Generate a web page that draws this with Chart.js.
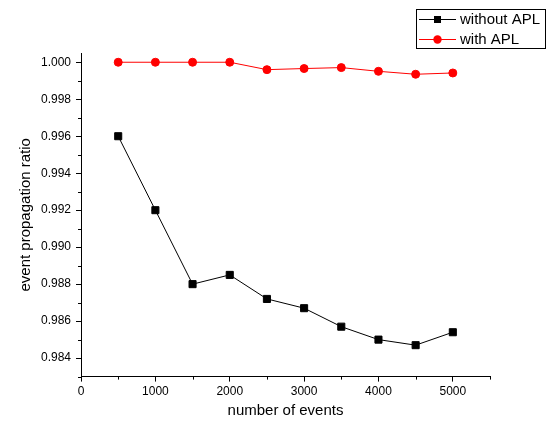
<!DOCTYPE html>
<html>
<head>
<meta charset="utf-8">
<script src="https://cdn.jsdelivr.net/npm/chart.js@4"></script>
<style>
  body { margin: 0; background: #fff; }
</style>
</head>
<body>
<canvas id="myChart" width="547" height="426"></canvas>
<script>
let events = [500, 1000, 1500, 2000, 2500, 3000, 3500, 4000, 4500, 5000];
let withoutAPL = [0.9960, 0.9920, 0.9880, 0.9885, 0.9872, 0.9867, 0.9857, 0.9850, 0.9847, 0.9854];
let withAPL = [1.0000, 1.0000, 1.0000, 1.0000, 0.9996, 0.99966, 0.99971, 0.99951, 0.99935, 0.99942];
let xTickLabels = [0, 1000, 2000, 3000, 4000, 5000];
let yTickLabels = [0.984, 0.986, 0.988, 0.990, 0.992, 0.994, 0.996, 0.998, 1.000];

let fontFamily = '"Liberation Sans", Arial, sans-serif';
Chart.defaults.font.family = fontFamily;
Chart.defaults.color = '#000';

let isXMajor = v => xTickLabels.includes(v);
let isYMajor = v => yTickLabels.some(l => Math.abs(l - v) < 1e-7);

// legend drawn as a framed box in the top right corner
let boxLegend = {
  id: 'boxLegend',
  afterDraw(chart) {
    let ctx = chart.ctx;
    let left = 416, top = 9, w = 129, h = 39;
    ctx.save();
    ctx.strokeStyle = '#000';
    ctx.lineWidth = 1;
    ctx.strokeRect(left + 0.5, top + 0.5, w, h);
    chart.data.datasets.forEach((ds, i) => {
      let y = top + 10 + i * 20;
      ctx.strokeStyle = ds.borderColor;
      ctx.beginPath();
      ctx.moveTo(left + 3, y + 0.5);
      ctx.lineTo(left + 40, y + 0.5);
      ctx.stroke();
      ctx.fillStyle = ds.pointBackgroundColor;
      if (ds.pointStyle === 'rect') {
        ctx.fillRect(left + 18, y - 3, 7, 7);
      } else {
        ctx.beginPath();
        ctx.arc(left + 21.5, y + 0.5, 4.2, 0, Math.PI * 2);
        ctx.fill();
      }
      ctx.fillStyle = '#000';
      ctx.font = '15px ' + fontFamily;
      ctx.textBaseline = 'middle';
      ctx.fillText(ds.label, left + 44, y + 1);
    });
    ctx.restore();
  }
};

// shorter minor ticks on both axes
let minorTicks = {
  id: 'minorTicks',
  afterDraw(chart) {
    let ctx = chart.ctx;
    let xs = chart.scales.x, ys = chart.scales.y;
    ctx.save();
    ctx.strokeStyle = '#000';
    ctx.lineWidth = 1;
    ctx.beginPath();
    xs.ticks.forEach(t => {
      if (isXMajor(t.value)) return;
      let px = Math.round(xs.getPixelForValue(t.value)) + 0.5;
      ctx.moveTo(px, xs.top);
      ctx.lineTo(px, xs.top + 3);
    });
    ys.ticks.forEach(t => {
      if (isYMajor(t.value)) return;
      let py = Math.round(ys.getPixelForValue(t.value)) + 0.5;
      ctx.moveTo(ys.right, py);
      ctx.lineTo(ys.right - 3, py);
    });
    ctx.stroke();
    ctx.restore();
  }
};

let mychart = document.getElementById('myChart');

let chart = new Chart(mychart, {
  type: 'line',
  data: {
    datasets: [
      {
        label: 'without APL',
        data: events.map((x, i) => ({ x: x, y: withoutAPL[i] })),
        borderColor: '#000',
        backgroundColor: '#000',
        pointBackgroundColor: '#000',
        pointBorderColor: '#000',
        pointStyle: 'rect',
        pointRadius: 5,
        borderWidth: 1,
        tension: 0
      },
      {
        label: 'with APL',
        data: events.map((x, i) => ({ x: x, y: withAPL[i] })),
        borderColor: '#ff0000',
        backgroundColor: '#ff0000',
        pointBackgroundColor: '#ff0000',
        pointBorderColor: '#ff0000',
        pointStyle: 'circle',
        pointRadius: 4,
        borderWidth: 1,
        tension: 0
      }
    ]
  },
  options: {
    responsive: false,
    animation: false,
    layout: {
      padding: { left: 17, right: 57, top: 53, bottom: 6 }
    },
    plugins: {
      legend: { display: false },
      tooltip: { enabled: false }
    },
    scales: {
      x: {
        type: 'linear',
        min: 0,
        max: 5500,
        border: { color: '#000', width: 1 },
        grid: {
          drawOnChartArea: false,
          tickLength: 5,
          tickColor: c => isXMajor(c.tick.value) ? '#000' : 'rgba(0,0,0,0)'
        },
        ticks: {
          stepSize: 500,
          includeBounds: false,
          autoSkip: false,
          maxRotation: 0,
          padding: 3,
          font: { size: 12 },
          callback: v => isXMajor(v) ? String(v) : ''
        },
        title: {
          display: true,
          text: 'number of events',
          font: { size: 15 },
          padding: { top: 0, bottom: 0 }
        }
      },
      y: {
        type: 'linear',
        min: 0.983,
        max: 1.0005,
        border: { color: '#000', width: 1 },
        grid: {
          drawOnChartArea: false,
          tickLength: 5,
          tickColor: c => isYMajor(c.tick.value) ? '#000' : 'rgba(0,0,0,0)'
        },
        ticks: {
          stepSize: 0.001,
          includeBounds: false,
          autoSkip: false,
          padding: 5,
          font: { size: 12 },
          callback: v => {
            let t = yTickLabels.find(l => Math.abs(l - v) < 1e-7);
            return t !== undefined ? t.toFixed(3) : '';
          }
        },
        title: {
          display: true,
          text: 'event propagation ratio',
          font: { size: 15 },
          padding: { top: 0, bottom: 1 }
        }
      }
    }
  },
  plugins: [boxLegend, minorTicks]
});
</script>
</body>
</html>
